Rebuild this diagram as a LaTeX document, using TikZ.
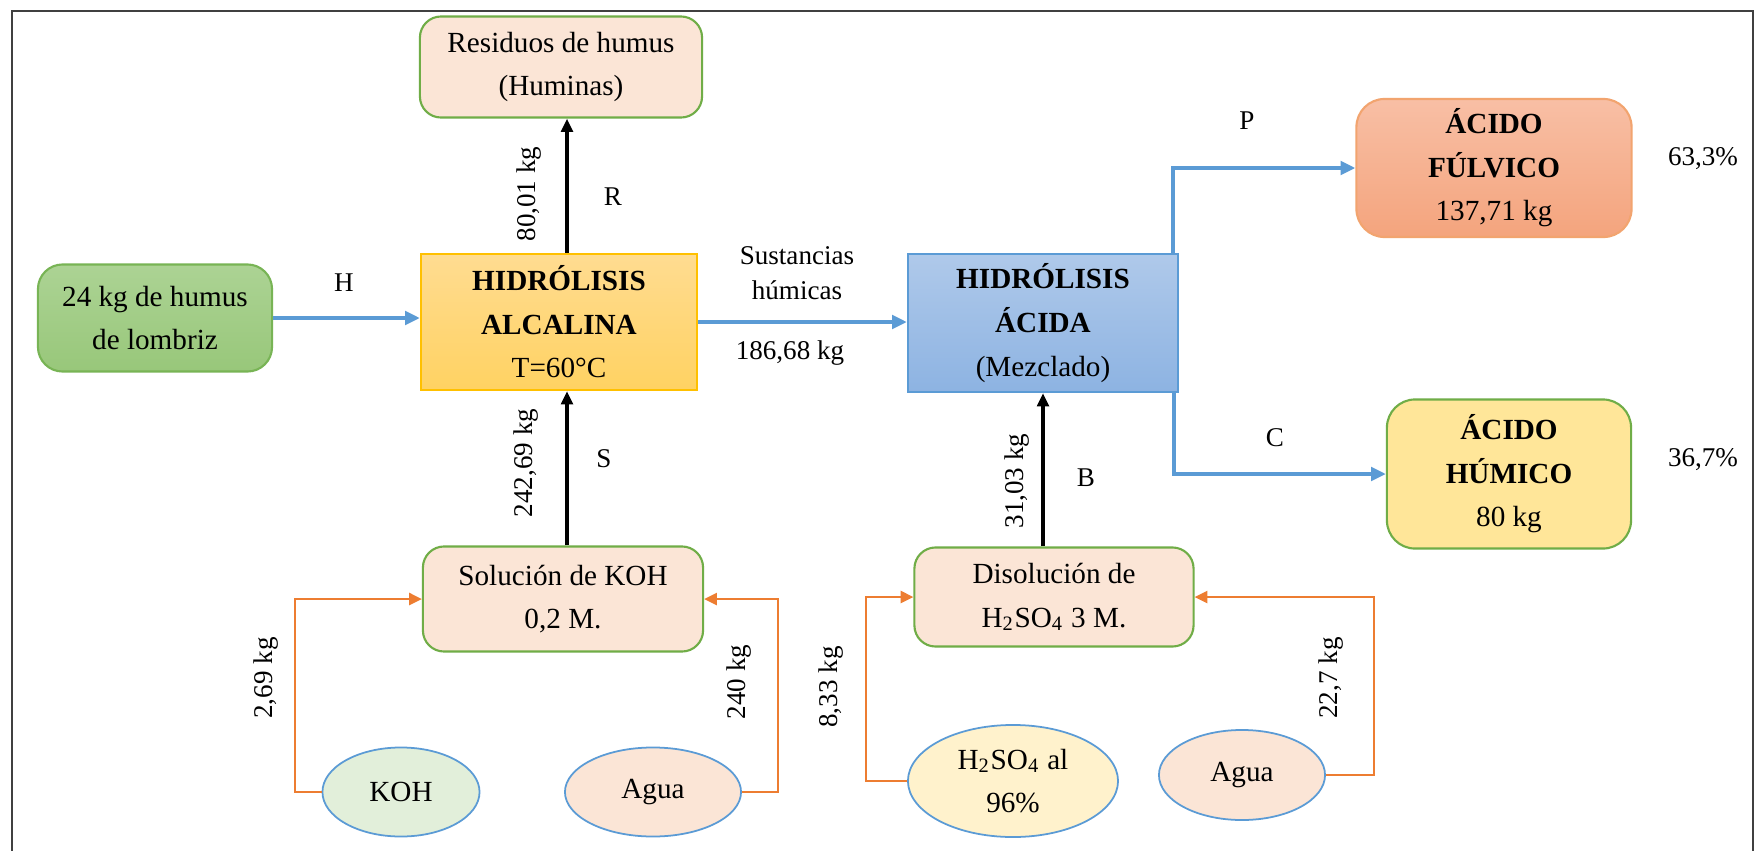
\documentclass[tikz,border=0pt]{standalone}
\usepackage{fontspec}
\setmainfont{Liberation Serif}
\usepackage{tikz}
\usetikzlibrary{arrows.meta}
\usetikzlibrary{shapes.geometric}
\definecolor{verde}{HTML}{70AD47}
\definecolor{azul}{HTML}{5B9BD5}
\definecolor{naranja}{HTML}{ED7D31}
\definecolor{durazno}{HTML}{FBE5D6}
\newcommand{\txtnodo}{\fontsize{8.3}{12.4}\selectfont}
\newcommand{\txtetq}{\fontsize{7.7}{10}\selectfont}
\tikzset{
  caja/.style={draw=verde, line width=.6pt, fill=durazno, rounded corners=6pt, align=center, font=\txtnodo, inner sep=2pt},
  proceso/.style={line width=.6pt, align=center, font=\txtnodo, inner sep=2pt},
  elipse/.style={ellipse, draw=azul, line width=.5pt, align=center, font=\txtnodo, inner sep=0pt},
  etiq/.style={font=\txtetq, inner sep=1pt},
  flechaazul/.style={azul, line width=1.1pt, ->, >={Triangle[length=4.2pt,width=3.8pt]}},
  flechanegra/.style={black, line width=.95pt, ->, >={Triangle[length=3.8pt,width=3.3pt]}},
  flechanaranja/.style={naranja, line width=.6pt, ->, >={Triangle[length=3.6pt,width=3.4pt]}}
}
\begin{document}
\begin{tikzpicture}[x=.01cm, y=-.01cm]
\useasboundingbox (0,0) rectangle (1756,851);
\fill[white] (0,0) rectangle (1756,851);
\draw[black!75, line width=.5pt] (12,851) -- (12,11) -- (1753,11) -- (1753,851);
% cajas principales
\node[caja, minimum width=2.82cm, minimum height=1.01cm] (resid) at (561,67) {Residuos de humus\\(Huminas)};
\node[caja, draw={rgb,255:red,120;green,180;blue,85}, top color={rgb,255:red,172;green,211;blue,148}, bottom color={rgb,255:red,152;green,199;blue,122}, minimum width=2.34cm, minimum height=1.07cm, rounded corners=7pt] (humus) at (155,318) {24 kg de humus\\de lombriz};
\node[proceso, draw={rgb,255:red,255;green,192;blue,0}, top color={rgb,255:red,255;green,220;blue,145}, bottom color={rgb,255:red,255;green,210;blue,98}, minimum width=2.76cm, minimum height=1.36cm] (alcal) at (559,322) {\textbf{HIDRÓLISIS}\\\textbf{ALCALINA}\\T=60°C};
\node[proceso, draw=azul, top color={rgb,255:red,175;green,201;blue,234}, bottom color={rgb,255:red,141;green,179;blue,226}, minimum width=2.70cm, minimum height=1.38cm] (acida) at (1043,323) {\textbf{HIDRÓLISIS}\\\textbf{ÁCIDA}\\(Mezclado)};
\node[caja, draw=naranja!70, top color={rgb,255:red,248;green,191;blue,165}, bottom color={rgb,255:red,244;green,164;blue,125}, minimum width=2.75cm, minimum height=1.38cm, rounded corners=8pt] (fulv) at (1494,168) {\textbf{ÁCIDO}\\\textbf{FÚLVICO}\\137,71 kg};
\node[caja, fill={rgb,255:red,255;green,230;blue,153}, minimum width=2.44cm, minimum height=1.49cm, rounded corners=8pt] (humi) at (1509,474) {\textbf{ÁCIDO}\\\textbf{HÚMICO}\\80 kg};
\node[caja, minimum width=2.80cm, minimum height=1.05cm] (sol) at (563,599) {Solución de KOH\\0,2 M.};
\node[caja, minimum width=2.79cm, minimum height=0.99cm] (disol) at (1054,597) {Disolución de\\H\textsubscript{2}SO\textsubscript{4} 3 M.};
% reactivos
\node[elipse, fill={rgb,255:red,226;green,239;blue,218}, minimum width=1.57cm, minimum height=0.89cm] (koh) at (401,792) {KOH};
\node[elipse, fill=durazno, minimum width=1.76cm, minimum height=0.89cm] (agua) at (653,792) {Agua};
\node[elipse, fill={rgb,255:red,255;green,242;blue,204}, minimum width=2.10cm, minimum height=1.12cm] (acsulf) at (1013,781) {H\textsubscript{2}SO\textsubscript{4} al\\96\%};
\node[elipse, fill=durazno, minimum width=1.66cm, minimum height=0.90cm] (aguab) at (1242,775) {Agua};
% corrientes
\draw[flechaazul] (humus.east) -- (humus.east -| alcal.west);
\draw[flechaazul] (alcal.east) -- (alcal.east -| acida.west);
\draw[flechaazul] ([xshift=-.06cm]acida.north east) |- (fulv.west);
\draw[flechaazul] ([xshift=-.05cm]acida.south east) |- (humi.west);
\draw[flechanegra] ([xshift=.08cm]alcal.north) -- ([xshift=.08cm]alcal.north |- resid.south);
\draw[flechanegra] ([xshift=.04cm]sol.north) -- ([xshift=.04cm]sol.north |- alcal.south);
\draw[flechanegra] (disol.north -| acida.south) -- (acida.south);
\draw[flechanaranja] (koh.west) -- ++(-27,0) |- (sol.west);
\draw[flechanaranja] (agua.east) -- ++(36,0) |- (sol.east);
\draw[flechanaranja] (acsulf.west) -- ++(-41,0) |- (disol.west);
\draw[flechanaranja] (aguab.east) -- ++(48,0) |- (disol.east);
% etiquetas
\node[etiq] (lH) at (344,283) {H};
\node[etiq] (lR) at (613,197) {R};
\node[etiq] (lS) at (604,459) {S};
\node[etiq] (lB) at (1086,478) {B};
\node[etiq] (lP) at (1247,121) {P};
\node[etiq] (lC) at (1275,438) {C};
\node[etiq, align=center] (lsust) at (797,273) {Sustancias\\húmicas};
\node[etiq] (lmasa) at (790,353) {186,68 kg};
\node[etiq] (lpf) at (1703,159) {63,3\%};
\node[etiq] (lph) at (1703,460) {36,7\%};
\node[etiq, rotate=90] (m1) at (529,194) {80,01 kg};
\node[etiq, rotate=90] (m2) at (526,463) {242,69 kg};
\node[etiq, rotate=90] (m3) at (1017,481) {31,03 kg};
\node[etiq, rotate=90] (m4) at (266,678) {2,69 kg};
\node[etiq, rotate=90] (m5) at (739,682) {240 kg};
\node[etiq, rotate=90] (m6) at (831,687) {8,33 kg};
\node[etiq, rotate=90] (m7) at (1331,678) {22,7 kg};
\end{tikzpicture}
\end{document}
